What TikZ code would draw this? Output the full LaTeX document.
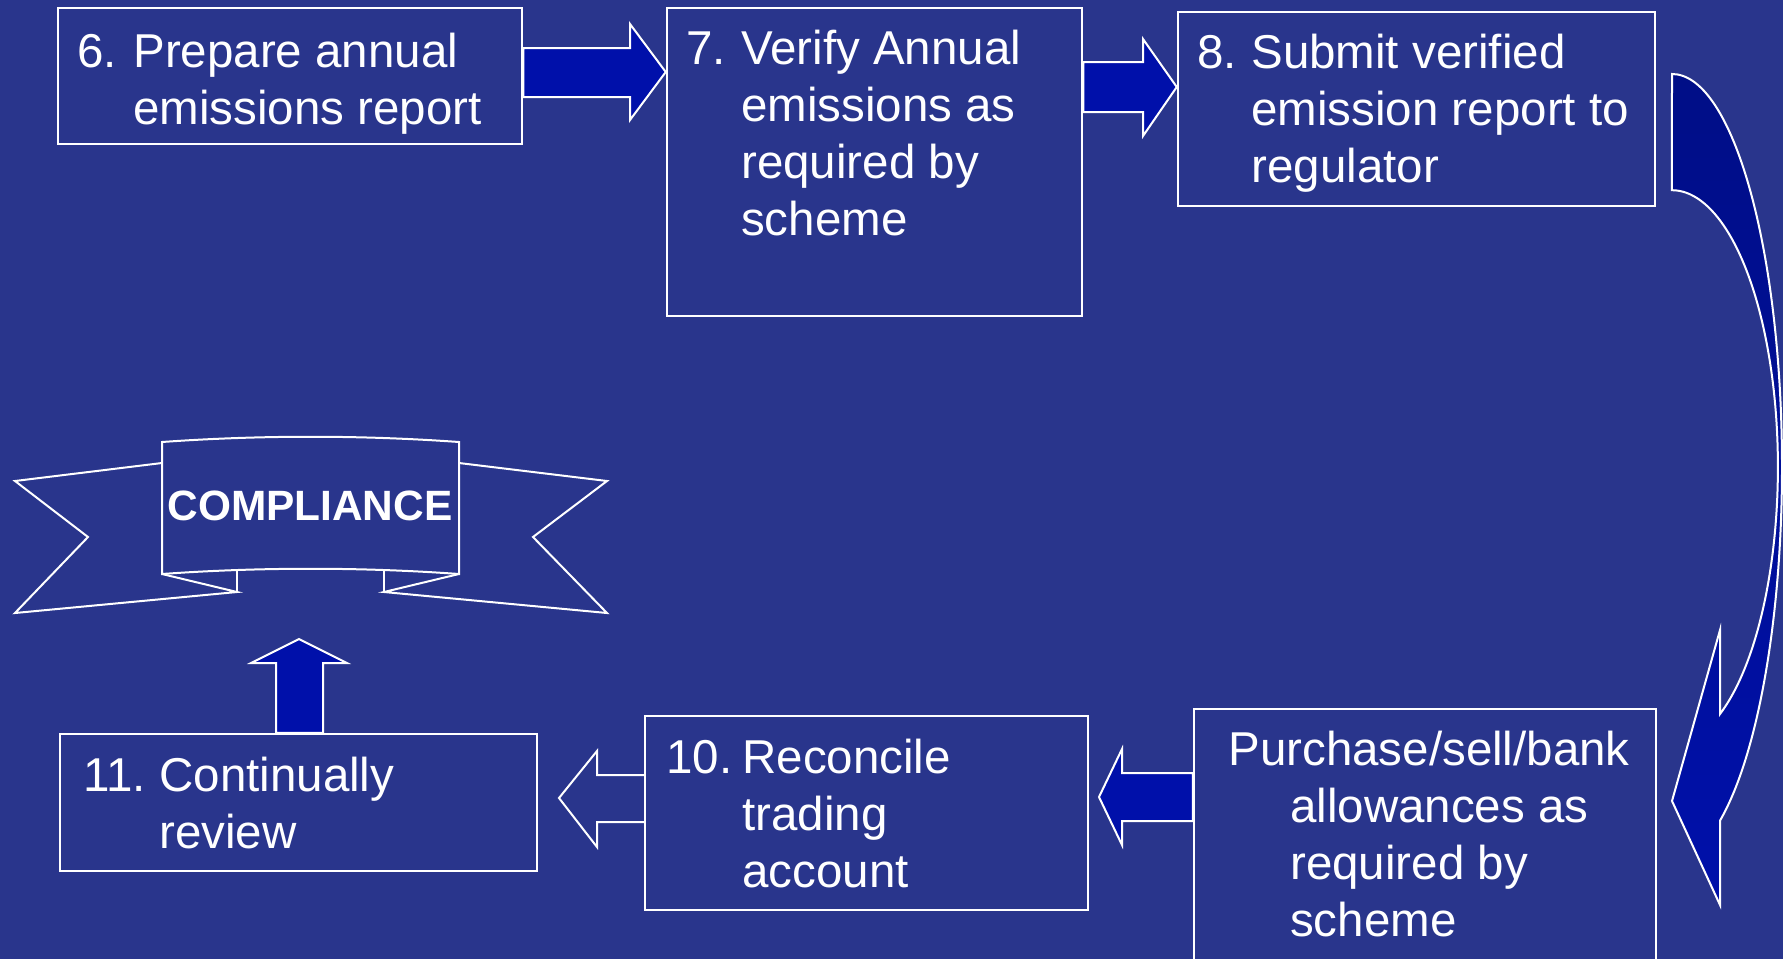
\documentclass[tikz,border=0pt]{standalone}
\usepackage{fontspec}
\setmainfont{Liberation Sans}
\usetikzlibrary{fit}

\definecolor{slidebg}{RGB}{41,53,140}
\definecolor{arrowblue}{RGB}{0,16,170}
\definecolor{arrowdark}{RGB}{0,14,135}

% number in a tab as wide as the hanging indent
\newcommand{\stepwrap}[3]{\parbox[t]{300pt}{\frenchspacing\hangindent=#1\hangafter=1
  \ifx\relax#2\relax\else\makebox[#1][l]{#2}\fi #3}}

\begin{document}
\begin{tikzpicture}[x=0.5pt,y=-0.5pt,line join=miter,
  stepbox/.style={draw=white,line width=1.25pt,inner sep=0pt},
  steptext/.style={anchor=base west,inner sep=0pt,text=white,font=\fontsize{23.75}{28.65}\selectfont},
  blockarrow/.style={draw=white,line width=1pt,fill=arrowblue},
  hollowarrow/.style={draw=white,line width=1pt}]

  \fill[slidebg] (0,0) rectangle (1783,959);
  \useasboundingbox (0,0) rectangle (1783,959);
  \clip (0,0) rectangle (1783,959);

  \node[stepbox,fit={(58,8) (522,144)}] (S6) {};
  \node[stepbox,fit={(667,8) (1082,316)}] (S7) {};
  \node[stepbox,fit={(1178,12) (1655,206)}] (S8) {};
  \node[stepbox,fit={(1194,709) (1656,990)}] (S9) {};
  \node[stepbox,fit={(645,716) (1088,910)}] (S10) {};
  \node[stepbox,fit={(60,734) (537,871)}] (S11) {};

  \node[steptext] (L6) at (77,67) {\stepwrap{28pt}{6.}{Prepare annual\\emissions report}};
  \node[steptext] (L7) at (686,64) {\stepwrap{27.4pt}{7.}{Verify Annual\\emissions as\\required by\\scheme}};
  \node[steptext] (L8) at (1197,68) {\stepwrap{27pt}{8.}{Submit verified\\emission report to\\regulator}};
  \node[steptext] (L9) at (1228,765) {\stepwrap{30.9pt}{}{Purchase/sell/bank\\allowances as\\required by\\scheme}};
  \node[steptext] (L10) at (666,773) {\stepwrap{38pt}{10.}{Reconcile\\trading\\account}};
  \node[steptext] (L11) at (83,791) {\stepwrap{38pt}{11.}{Continually\\review}};

  % 6 -> 7 and 7 -> 8
  \draw[blockarrow] (S6.east |- 0,48) -- (630,48) -- (630,24) -- (S7.west |- 0,72)
    -- (630,120) -- (630,97) -- (S6.east |- 0,97) -- cycle;
  \draw[blockarrow] (S7.east |- 0,62) -- (1143,62) -- (1143,39) -- (S8.west |- 0,87)
    -- (1143,136) -- (1143,112) -- (S7.east |- 0,112) -- cycle;

  % 8 -> 9
  \coordinate (C8) at (1672,74);
  \draw[white,line width=1pt,top color=arrowdark,bottom color=arrowblue]
    (C8) arc[start angle=-90,end angle=64,x radius=110,y radius=393]
    -- (1720,905) -- (1672,801) -- (1720,630) -- (1720,714)
    arc[start angle=63,end angle=-90,x radius=106,y radius=277] -- cycle;

  % 9 -> 10 and 10 -> 11
  \coordinate (P10) at (1099,797);
  \draw[blockarrow] (S9.west |- 0,773) -- (1122,773) -- (1122,749) -- (P10)
    -- (1122,845) -- (1122,821) -- (S9.west |- 0,821) -- cycle;
  \coordinate (P11) at (559,798);
  \draw[hollowarrow] (S10.west |- 0,775) -- (597,775) -- (597,751) -- (P11)
    -- (597,847) -- (597,822) -- (S10.west |- 0,822);

  % 11 -> compliance
  \coordinate (PC) at (299,639);
  \draw[blockarrow] (276,0 |- S11.north) -- (276,663) -- (251,663) -- (PC)
    -- (347,663) -- (323,663) -- (323,0 |- S11.north) -- cycle;

  % banner
  \draw[white,line width=1pt] (162,463) -- (15,481) -- (88,537) -- (15,613) -- (237,592) -- (162,574);
  \draw[white,line width=1pt] (237,592) -- (237,571);
  \draw[white,line width=1pt] (459,463) -- (607,481) -- (533,537) -- (607,613) -- (384,592) -- (459,574);
  \draw[white,line width=1pt] (384,592) -- (384,571);
  \draw[white,line width=1pt] (162,442) .. controls (260,435) and (361,435) .. (459,442)
    -- (459,574) .. controls (361,567) and (260,567) .. (162,574) -- cycle;
  \node[anchor=base,inner sep=0pt,text=white,font=\bfseries\fontsize{21.2}{25}\selectfont] (CL) at (310,520) {COMPLIANCE};

\end{tikzpicture}
\end{document}
